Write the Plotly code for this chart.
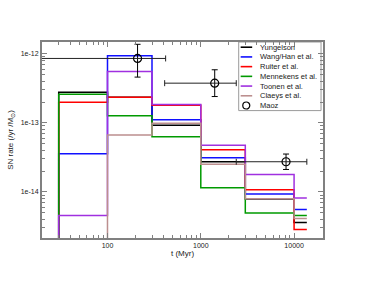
import plotly.graph_objects as go

# ---------------- data ----------------
bin_edges = [30, 100, 300, 1000, 3000, 10000, 13700]   # Myr
floor_val = 1e-16  # start of step line (off-chart bottom)

series_names = ["Yungelson", "Wang/Han et al.", "Ruiter et al.",
                "Mennekens et al.", "Toonen et al.", "Claeys et al."]
series_colors = ["#000000", "#1010ff", "#ff0000", "#009a00", "#a030e0", "#bc8f8f"]

yungelson = [2.78e-13, 2.35e-13, 9.20e-14, 2.73e-14, 7.9e-15, 3.60e-15]
wang_han  = [3.56e-14, 9.35e-13, 1.11e-13, 3.12e-14, 9.35e-15, 5.55e-15]
ruiter    = [1.99e-13, 2.35e-13, 1.80e-13, 4.08e-14, 1.07e-14, 2.84e-15]
mennekens = [2.60e-13, 1.26e-13, 6.29e-14, 1.15e-14, 4.96e-15, 4.54e-15]
toonen    = [4.54e-15, 5.53e-13, 1.84e-13, 4.72e-14, 1.79e-14, 8.18e-15]
claeys    = [1e-16,    6.67e-14, 9.84e-14, 2.52e-14, 7.92e-15, 4.11e-15]
series_values = [yungelson, wang_han, ruiter, mennekens, toonen, claeys]

maoz_t      = [210, 1410, 8200]
maoz_rate   = [8.55e-13, 3.75e-13, 2.73e-14]
maoz_rate_hi = [1.37e-12, 5.86e-13, 3.53e-14]
maoz_rate_lo = [4.59e-13, 2.40e-13, 2.11e-14]
maoz_t_lo   = [1, 410, 2400]
maoz_t_hi   = [420, 2400, 13700]

y_tick_vals = [1e-14, 1e-13, 1e-12]
y_tick_text = ["1e-14", "1e-13", "1e-12"]
x_tick_vals = [100, 1000, 10000]
x_tick_text = ["100", "1000", "10000"]

FONT = "Liberation Sans, Arial, sans-serif"
TXT = "#222222"
FRAME = "#808080"

fig = go.Figure()

for name, col, vals in zip(series_names, series_colors, series_values):
    xs = [bin_edges[0]] + bin_edges
    ys = [floor_val] + vals + [vals[-1]]
    fig.add_trace(go.Scatter(x=xs, y=ys, mode="lines", name=name,
                             line=dict(color=col, width=1.5, shape="hv"),
                             showlegend=False))

fig.add_trace(go.Scatter(
    x=maoz_t, y=maoz_rate, mode="markers", name="Maoz", showlegend=False,
    marker=dict(symbol="circle-open", size=8, color="black", line=dict(width=1.2)),
    error_y=dict(type="data", symmetric=False,
                 array=[h - v for h, v in zip(maoz_rate_hi, maoz_rate)],
                 arrayminus=[v - l for l, v in zip(maoz_rate_lo, maoz_rate)],
                 color="black", thickness=1, width=3),
    error_x=dict(type="data", symmetric=False,
                 array=[h - v for h, v in zip(maoz_t_hi, maoz_t)],
                 arrayminus=[v - l for l, v in zip(maoz_t_lo, maoz_t)],
                 color="#222222", thickness=1, width=3),
))

# minor tick positions
x_minor = [m * 10 ** e for e in range(1, 5) for m in range(2, 10)]
y_minor = [m * 10.0 ** e for e in range(-15, -11) for m in range(2, 10)]

fig.update_xaxes(type="log", range=[1.298, 4.310], automargin=False,
                 tickmode="array", tickvals=x_tick_vals, ticktext=x_tick_text,
                 ticks="inside", ticklen=5, tickwidth=1.2, tickcolor=FRAME,
                 minor=dict(tickmode="array", tickvals=x_minor, ticks="inside",
                            ticklen=3, tickwidth=1.2, tickcolor=FRAME, showgrid=False),
                 showline=True, linecolor=FRAME, linewidth=2, mirror="allticks",
                 showgrid=False, zeroline=False,
                 tickfont=dict(family=FONT, size=7, color=TXT),
                 title=dict(text="t (Myr)", font=dict(family=FONT, size=8, color=TXT),
                            standoff=2))
fig.update_yaxes(type="log", range=[-14.668, -11.830], automargin=False,
                 tickmode="array", tickvals=y_tick_vals, ticktext=y_tick_text,
                 ticks="inside", ticklen=5, tickwidth=1.2, tickcolor=FRAME,
                 minor=dict(tickmode="array", tickvals=y_minor, ticks="inside",
                            ticklen=3, tickwidth=1.2, tickcolor=FRAME, showgrid=False),
                 showline=True, linecolor=FRAME, linewidth=2, mirror="allticks",
                 showgrid=False, zeroline=False,
                 tickfont=dict(family=FONT, size=7, color=TXT),
                 title=dict(text="SN rate (/yr /M<sub>⊙</sub>)",
                            font=dict(family=FONT, size=8, color=TXT), standoff=6))

# ---- manual legend (compact) ----
lx0, lx1, ly0, ly1 = 0.700, 0.993, 0.650, 1.0
shapes = [dict(type="rect", xref="paper", yref="paper", x0=lx0, x1=lx1, y0=ly0, y1=ly1,
               line=dict(color="#9a9a9a", width=1), fillcolor="white", layer="below")]
annotations = []
legend_labels = series_names + ["Maoz"]
top_px, step_px, plot_h = 5.2, 9.7, 195.7
for i, lab in enumerate(legend_labels):
    yp = 1.0 - (top_px + step_px * i) / plot_h
    if i < len(series_names):
        shapes.append(dict(type="line", xref="paper", yref="paper", x0=0.707, x1=0.748,
                           y0=yp, y1=yp, line=dict(color=series_colors[i], width=1.6),
                           layer="above"))
    else:
        shapes.append(dict(type="circle", xref="paper", yref="paper",
                           xsizemode="pixel", ysizemode="pixel",
                           xanchor=0.727, yanchor=yp, x0=-3.5, x1=3.5, y0=-3.5, y1=3.5,
                           line=dict(color="black", width=1.2), layer="above"))
    annotations.append(dict(xref="paper", yref="paper", x=0.768, y=yp, text=lab,
                            showarrow=False, xanchor="left", yanchor="middle",
                            font=dict(family=FONT, size=7.5, color=TXT)))

fig.update_layout(
    width=373, height=288,
    margin=dict(l=42, r=50, t=42, b=50),
    paper_bgcolor="white", plot_bgcolor="white",
    showlegend=False,
    shapes=shapes, annotations=annotations,
)

fig.write_html("out.html", config={"displayModeBar": False},
               post_script="document.body.style.margin='0';document.body.style.padding='0';")
